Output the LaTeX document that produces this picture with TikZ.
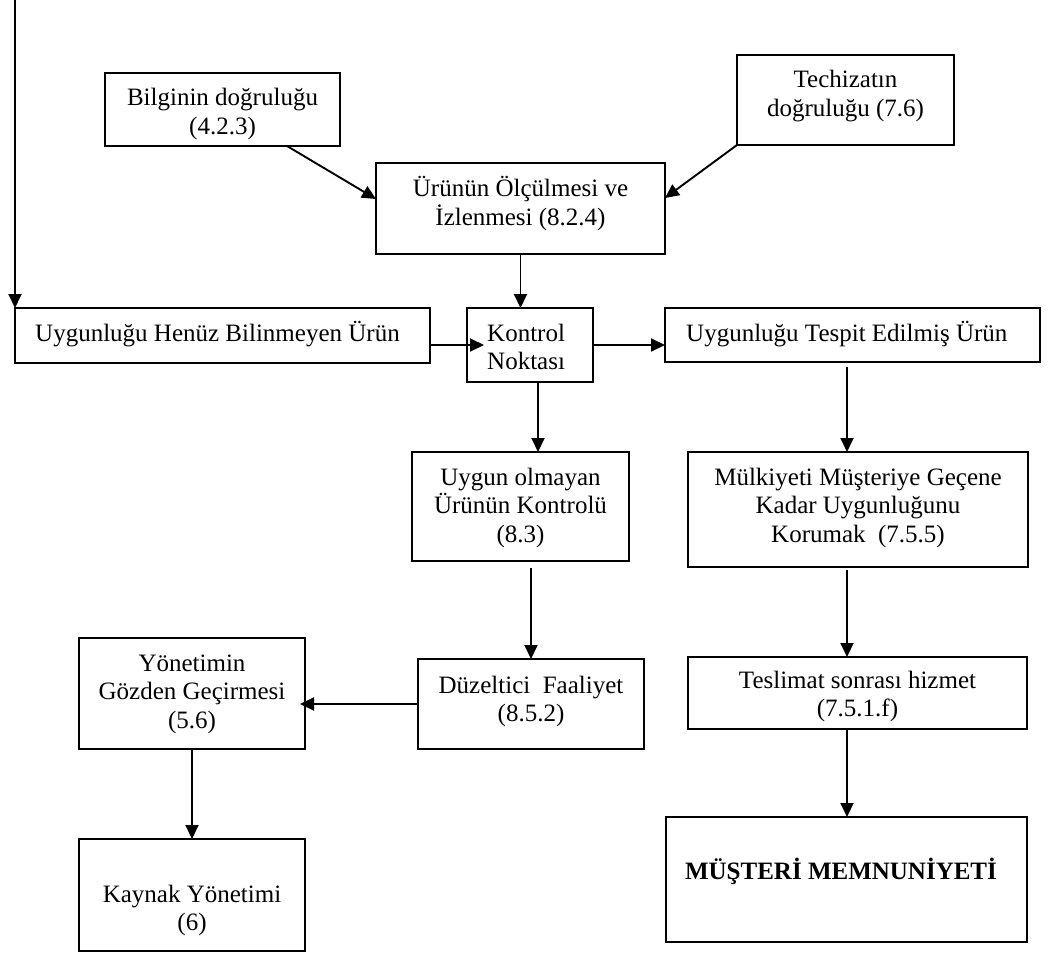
\documentclass[tikz,border=0pt]{standalone}
\usepackage{fontspec}
\setmainfont{Liberation Serif}
\usetikzlibrary{arrows.meta,calc}

% multi-line box text whose baseline is the first line
\newcommand{\ctext}[1]{\begin{tabular}[t]{@{}c@{}}#1\end{tabular}}
\newcommand{\ltext}[1]{\begin{tabular}[t]{@{}l@{}}#1\end{tabular}}

\begin{document}
\begin{tikzpicture}[x=1pt,y=-1pt,
  box/.style={draw, line width=1.9pt, inner sep=0pt, outer sep=0pt, anchor=north west},
  txt/.style={inner sep=0pt, anchor=base, font=\fontsize{25}{28.5}\selectfont},
  ltxt/.style={txt, anchor=base west},
  arr/.style={line width=1.9pt, -{Triangle[length=14pt,width=13pt]}},
]
\useasboundingbox (0,0) rectangle (1059,955);

% boxes
\node[box, minimum width=235pt, minimum height=73pt]  (bilgi) at (105,73)  {};
\node[box, minimum width=217pt, minimum height=90pt]  (tech)  at (737,55)  {};
\node[box, minimum width=289pt, minimum height=91pt]  (ur)    at (376,163) {};
\node[box, minimum width=415pt, minimum height=55pt]  (hen)   at (15,308)  {};
\node[box, minimum width=126pt, minimum height=74pt]  (kon)   at (467,308) {};
\node[box, minimum width=375pt, minimum height=54pt]  (tes)   at (665,308) {};
\node[box, minimum width=217pt, minimum height=109pt] (uyg)   at (412,452) {};
\node[box, minimum width=340pt, minimum height=115pt] (mul)   at (688,452) {};
\node[box, minimum width=226pt, minimum height=90pt]  (duz)   at (418,659) {};
\node[box, minimum width=226pt, minimum height=111pt] (yon)   at (79,638)  {};
\node[box, minimum width=339pt, minimum height=72pt]  (tsl)   at (688,657) {};
\node[box, minimum width=361pt, minimum height=125pt] (mus)   at (666,817) {};
\node[box, minimum width=226pt, minimum height=112pt] (kay)   at (79,839)  {};

% box texts
\node[txt]  (bilgi-t) at (222.5,106) {\ctext{Bilginin doğruluğu\\(4.2.3)}};
\node[txt]  (tech-t)  at (845.5,88)  {\ctext{Techizatın\\doğruluğu (7.6)}};
\node[txt]  (ur-t)    at (520.5,196) {\ctext{Ürünün Ölçülmesi ve\\İzlenmesi (8.2.4)}};
\node[ltxt] (hen-t)   at (35,341)    {Uygunluğu Henüz Bilinmeyen Ürün};
\node[ltxt] (kon-t)   at (487,341)   {\ltext{Kontrol\\Noktası}};
\node[ltxt] (tes-t)   at (686,341)   {Uygunluğu Tespit Edilmiş Ürün};
\node[txt]  (uyg-t)   at (520.5,485) {\ctext{Uygun olmayan\\Ürünün Kontrolü\\(8.3)}};
\node[txt]  (mul-t)   at (858,485)   {\ctext{Mülkiyeti Müşteriye Geçene\\Kadar Uygunluğunu\\Korumak\ \ (7.5.5)}};
\node[txt]  (duz-t)   at (531,693)   {\ctext{Düzeltici\ \ Faaliyet\\(8.5.2)}};
\node[txt]  (yon-t)   at (192,671)   {\ctext{Yönetimin\\Gözden Geçirmesi\\(5.6)}};
\node[txt]  (tsl-t)   at (857.5,688) {\ctext{Teslimat sonrası hizmet\\(7.5.1.f)}};
\node[txt]  (mus-t)   at (841,879)   {\bfseries MÜŞTERİ MEMNUNİYETİ};
\node[txt]  (kay-t)   at (192,902)   {\ctext{Kaynak Yönetimi\\(6)}};

% connector end points
\coordinate (top) at (15,0);
\coordinate (k1) at ($(kon.south west)+(71,0)$);
\coordinate (t1) at ($(tes.south west)+(182,5)$);
\coordinate (u1) at ($(uyg.south west)+(119,7)$);
\coordinate (m1) at ($(mul.south west)+(159,3)$);
\coordinate (s1) at ($(tsl.south west)+(159,0)$);

% connectors
\draw[arr] (top) -- (hen.north west);
\draw[arr] ($(bilgi.south west)+(182,0)$) -- ($(ur.north west)+(0,36)$);
\draw[arr] (tech.south west) -- ($(ur.north east)+(0,35)$);
\draw[arr] (ur.south) -- (ur.south |- kon.north);
\draw[arr, shorten >=-17pt] (kon.west -| hen.east) -- (kon.west);
\draw[arr] (kon.east) -- (kon.east -| tes.west);
\draw[arr] (k1) -- (k1 |- uyg.north);
\draw[arr] (t1) -- (t1 |- mul.north);
\draw[arr] (u1) -- (u1 |- duz.north);
\draw[arr] (m1) -- (m1 |- tsl.north);
\draw[arr, shorten >=-5pt] (duz.west) -- (duz.west -| yon.east);
\draw[arr] (s1) -- (s1 |- mus.north);
\draw[arr] (yon.south) -- (yon.south |- kay.north);
\end{tikzpicture}
\end{document}
